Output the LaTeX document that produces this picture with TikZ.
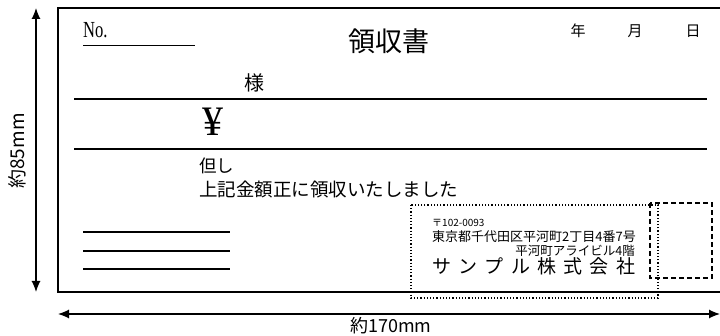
\documentclass[tikz,border=0pt]{standalone}
\usepackage{fontspec}
\setmainfont{Liberation Serif}
\newfontfamily\jpfont{Noto Sans CJK JP}
\newfontfamily\nofont{Liberation Serif}[FakeStretch=0.72]
\usetikzlibrary{arrows.meta}
\newcommand\jfs[1]{\jpfont\fontsize{#1}{#1}\selectfont}

\begin{document}
\begin{tikzpicture}[x=1pt,y=-1pt]
  \tikzstyle{every node}=[inner sep=0pt]
  \tikzstyle{rule}=[line width=1.1pt]
  \tikzstyle{dim}=[line width=1.2pt,{Latex[length=11pt,width=9pt]}-{Latex[length=11pt,width=9pt]}]
  \useasboundingbox (0,0) rectangle (720,336);
  % receipt frame
  \draw[line width=2.2pt] (722,8) -- (58,8) -- (58,292) -- (722,292);
  % size arrows
  \coordinate (vtop) at (36,8);
  \coordinate (vbot) at (36,292);
  \coordinate (hleft) at (58,314);
  \coordinate (hright) at (720,314);
  \draw[dim] (vtop) -- (vbot);
  \draw[dim] (hleft) -- (hright);
  \node[rotate=90,font=\jfs{19}] (height) at (17,151) {約85mm};
  \node[font=\jfs{18}] (width) at (391,326) {約170mm};
  % header
  \node[anchor=base west,font=\nofont\fontsize{23}{23}\selectfont] (no) at (83,38) {No.};
  \draw[line width=0.9pt] (83,45) -- (195,45);
  \node[font=\jfs{27}] (title) at (389,41) {領収書};
  \node[font=\jfs{15}] (year) at (578,31) {年};
  \node[font=\jfs{15}] (month) at (635,31) {月};
  \node[font=\jfs{15}] (day) at (693,31) {日};
  \node[font=\jfs{20}] (sama) at (254,83) {様};
  \draw[rule] (74,99) -- (707,99);
  \node[font=\fontsize{42}{42}\selectfont] (yen) at (213,122) {¥};
  \draw[rule] (74,149) -- (707,149);
  \node[anchor=west,font=\jfs{17.5}] (tadashi) at (199,166) {但し};
  \node[anchor=west,font=\jfs{18.5}] (receipt) at (199,189) {上記金額正に領収いたしました};
  % signature lines
  \foreach \y in {232,251,269}
    \draw[line width=1.5pt] (83,\y) -- (230,\y);
  % stamp area
  \draw[dotted,line width=1.2pt] (411,205) rectangle (658,298);
  \draw[dashed,line width=1.6pt,dash pattern=on 5pt off 3pt] (650,203) rectangle (712,278);
  \node[anchor=west,font=\jfs{10}] (zip) at (432,223) {〒102-0093};
  \node[anchor=west,font=\jfs{13}] (addr) at (432,237) {東京都千代田区平河町2丁目4番7号};
  \node[anchor=east,font=\jfs{12.5}] (bldg) at (635,251) {平河町アライビル4階};
  \node[anchor=west,font=\jfs{19}] (company) at (432,266) {\makebox[203pt][s]{サ ン プ ル 株 式 会 社}};
\end{tikzpicture}
\end{document}
